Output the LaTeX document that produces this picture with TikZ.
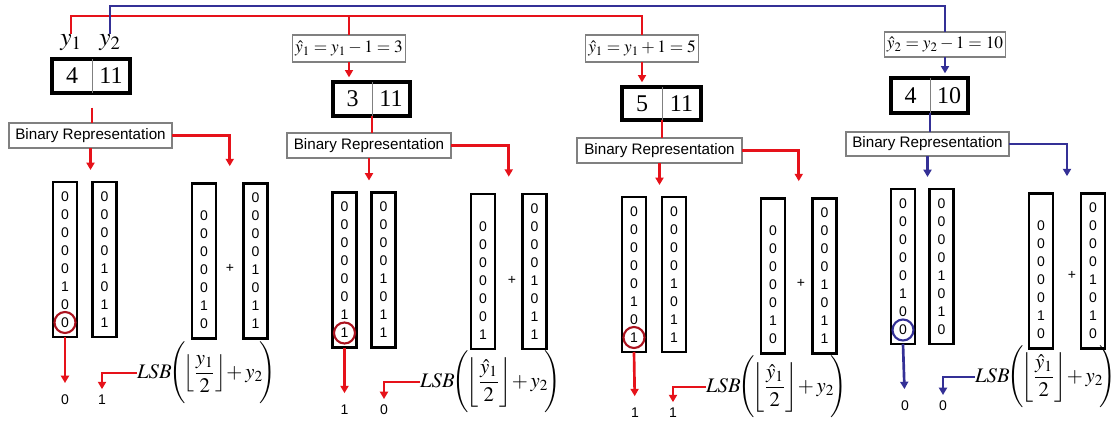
\documentclass[tikz,border=0pt]{standalone}
\usepackage{mathptmx}
\usepackage[no-math]{fontspec}
\newfontfamily\sansf{Liberation Sans}
\newfontfamily\seriff{Liberation Serif}
\usetikzlibrary{arrows.meta,fit,calc}
\definecolor{lineRed}{RGB}{230,18,26}
\definecolor{lineBlue}{RGB}{52,48,150}
\definecolor{ringRed}{RGB}{170,18,30}
\definecolor{frameGray}{RGB}{128,128,128}
% LSB of (floor(#1/2) + y2), with tall outer parentheses set close to the text
\newcommand{\lsbof}[1]{$\displaystyle LSB\mkern-4mu\left(\rule[-18pt]{0pt}{44pt}\mkern-4mu\left\lfloor\frac{#1}{2}\right\rfloor\mkern-2mu+y_2\mkern-3mu\right)$}

\begin{document}
\begin{tikzpicture}[x=0.75pt,y=-0.75pt,
  every node/.style={inner sep=0pt, outer sep=0pt},
  sz/.style 2 args={minimum width=#1*0.75pt, minimum height=#2*0.75pt},
  digits/.style={font=\sansf\fontsize{10.5}{13.5}\selectfont},
  col/.style={draw, line width=2.2pt, sz={24}{155}, align=center, digits},
  cell/.style={font=\seriff\fontsize{18}{20}\selectfont},
  ylab/.style={font=\fontsize{19}{21}\selectfont, inner sep=1pt},
  pairframe/.style={draw, line width=2.3pt, inner sep=0pt},
  divider/.style={draw=frameGray, line width=0.7pt},
  binbox/.style={draw=frameGray, line width=0.8pt, fill=white,
    font=\sansf\fontsize{11.4}{13}\selectfont},
  eqbox/.style={draw=frameGray, line width=0.8pt, fill=white, inner xsep=2pt,
    font=\fontsize{13}{15}\selectfont},
  lsb/.style={font=\fontsize{15.5}{18}\selectfont},
  ring/.style={circle, line width=1.6pt, minimum size=21*0.75pt},
  arr/.style={-{Triangle[length=5.5pt,width=6pt]}},
  redl/.style={draw=lineRed, line width=2pt},
  bluel/.style={draw=lineBlue, line width=2pt},
  down/.style={shorten >=9pt},
  elbow/.style={shorten >=4.5pt},
]
\useasboundingbox (0,0) rectangle (1114,421);

% ---------- first pair (4, 11) ----------
\node[ylab] (p1y1) at (71,43) {$y_1$};
\node[ylab] (p1y2) at (110,43) {$y_2$};
\node[cell, sz={40}{34}] (p1a) at (72,76) {4};
\node[cell, sz={38}{34}] (p1b) at (111,76) {11};
\node[pairframe, fit=(p1a)(p1b)] (p1box) {};
\draw[divider] (p1a.north east) -- (p1a.south east);
\node[binbox, sz={163}{25}] (p1bin) at (90.5,135.5) {Binary Representation};
\node[col] (p1c1) at (65,259.5) {0\\0\\0\\0\\0\\1\\0\\0};
\node[col] (p1c2) at (104.5,259.5) {0\\0\\0\\0\\1\\0\\1\\1};
\node[col] (p1c3) at (204,261) {\vphantom{0}\\0\\0\\0\\0\\0\\1\\0};
\node[col] (p1c4) at (255.5,261) {0\\0\\0\\0\\1\\0\\1\\1};
\node[digits] (p1plus) at (230,268) {+};
\node[ring, draw=ringRed] (p1ring) at (65,322.5) {};
\node[digits] (p1r1) at (65,400) {0};
\node[digits] (p1r2) at (102,400) {1};
\node[lsb, anchor=west] (p1lsb) at (137,373) {\lsbof{y_1}};
\coordinate (p1fork) at ($(p1c3.north)!0.5!(p1c4.north)$);

% ---------- second pair (3, 11) ----------
\node[eqbox, sz={104}{27}] (p2eq) at (349,48.5) {$\hat{y}_1 = y_1 - 1 = 3$};
\node[cell, sz={39}{34}] (p2a) at (352.5,99) {3};
\node[cell, sz={38}{34}] (p2b) at (391,99) {11};
\node[pairframe, fit=(p2a)(p2b)] (p2box) {};
\draw[divider] (p2a.north east) -- (p2a.south east);
\node[binbox, sz={164}{25}] (p2bin) at (369,145.5) {Binary Representation};
\node[col] (p2c1) at (344.5,270) {0\\0\\0\\0\\0\\0\\1\\1};
\node[col] (p2c2) at (383.5,270) {0\\0\\0\\0\\1\\0\\1\\1};
\node[col] (p2c3) at (483,271.5) {\vphantom{0}\\0\\0\\0\\0\\0\\0\\1};
\node[col] (p2c4) at (534.5,271.5) {0\\0\\0\\0\\1\\0\\1\\1};
\node[digits] (p2plus) at (512,280) {+};
\node[ring, draw=ringRed] (p2ring) at (344.5,333) {};
\node[digits] (p2r1) at (344.5,410) {1};
\node[digits] (p2r2) at (384,410) {0};
\node[lsb, anchor=west] (p2lsb) at (420,382) {\lsbof{\hat{y}_1}};
\coordinate (p2fork) at ($(p2c3.north)!0.5!(p2c4.north)$);

% ---------- third pair (5, 11) ----------
\node[eqbox, sz={106}{27}] (p3eq) at (642,48.5) {$\hat{y}_1 = y_1 + 1 = 5$};
\node[cell, sz={40}{33}] (p3a) at (642,103.5) {5};
\node[cell, sz={39}{33}] (p3b) at (681.5,103.5) {11};
\node[pairframe, fit=(p3a)(p3b)] (p3box) {};
\draw[divider] (p3a.north east) -- (p3a.south east);
\node[binbox, sz={165}{25}] (p3bin) at (659.5,150.5) {Binary Representation};
\node[col] (p3c1) at (634,274.5) {0\\0\\0\\0\\0\\1\\0\\1};
\node[col] (p3c2) at (674,274.5) {0\\0\\0\\0\\1\\0\\1\\1};
\node[col] (p3c3) at (773,276) {\vphantom{0}\\0\\0\\0\\0\\0\\1\\0};
\node[col] (p3c4) at (824.5,276) {0\\0\\0\\0\\1\\0\\1\\1};
\node[digits] (p3plus) at (801,283) {+};
\node[ring, draw=ringRed] (p3ring) at (634,337.5) {};
\node[digits] (p3r1) at (635,413) {1};
\node[digits] (p3r2) at (673,413) {1};
\node[lsb, anchor=west] (p3lsb) at (706,387) {\lsbof{\hat{y}_1}};
\coordinate (p3fork) at ($(p3c3.north)!0.5!(p3c4.north)$);

% ---------- fourth pair (4, 10) ----------
\node[eqbox, sz={118}{25}] (p4eq) at (945,44.5) {$\hat{y}_2 = y_2 - 1 = 10$};
\node[cell, sz={39}{35}] (p4a) at (910.5,95.5) {4};
\node[cell, sz={38}{35}] (p4b) at (949,95.5) {10};
\node[pairframe, fit=(p4a)(p4b)] (p4box) {};
\draw[divider] (p4a.north east) -- (p4a.south east);
\node[binbox, sz={163}{24}] (p4bin) at (927.5,144) {Binary Representation};
\node[col] (p4c1) at (903,266.5) {0\\0\\0\\0\\0\\1\\0\\0};
\node[col] (p4c2) at (941.5,266.5) {0\\0\\0\\0\\1\\0\\1\\0};
\node[col] (p4c3) at (1041,271) {\vphantom{0}\\0\\0\\0\\0\\0\\1\\0};
\node[col] (p4c4) at (1093,271) {0\\0\\0\\0\\1\\0\\1\\0};
\node[digits] (p4plus) at (1072,275) {+};
\node[ring, draw=lineBlue] (p4ring) at (903,330) {};
\node[digits] (p4r1) at (905,406) {0};
\node[digits] (p4r2) at (943,406) {0};
\node[lsb, anchor=west] (p4lsb) at (975,377) {\lsbof{\hat{y}_1}};
\coordinate (p4fork) at ($(p4c3.north)!0.5!(p4c4.north)$);

% ---------- feed lines from y1 and y2 ----------
\coordinate (redbar) at (0,16);
\coordinate (bluebar) at (0,6);
\draw[redl] (p1y1.north) |- (p3eq.north |- redbar) -- (p3eq.north);
\draw[redl] (p2eq.north |- redbar) -- (p2eq.north);
\draw[bluel] (p1y2.north) |- (p4eq.north |- bluebar) -- (p4eq.north);

% ---------- connectors inside each group ----------
\foreach \g/\c in {p1/redl, p2/redl, p3/redl, p4/bluel}{
  \draw[\c, arr, down] (\g bin.south) -- (\g bin.south |- \g c1.north);
  \draw[\c, arr, shorten >=13pt] (\g bin.east) -| (\g fork);
  \draw[\c, arr, down] (\g c1.south) -- (\g r1);
  \draw[\c, arr, elbow] (\g lsb.west) -| (\g r2);
}
\draw[redl, shorten <=11pt] (p1a.south east) -- (p1a.south east |- p1bin.north);
\foreach \g/\c in {p2/redl, p3/redl, p4/bluel}{
  \draw[\c, arr, shorten >=3.5pt] (\g eq.south) -- (\g eq.south |- \g box.north);
  \draw[\c] (\g a.south east) -- (\g a.south east |- \g bin.north);
}
\end{tikzpicture}
\end{document}
